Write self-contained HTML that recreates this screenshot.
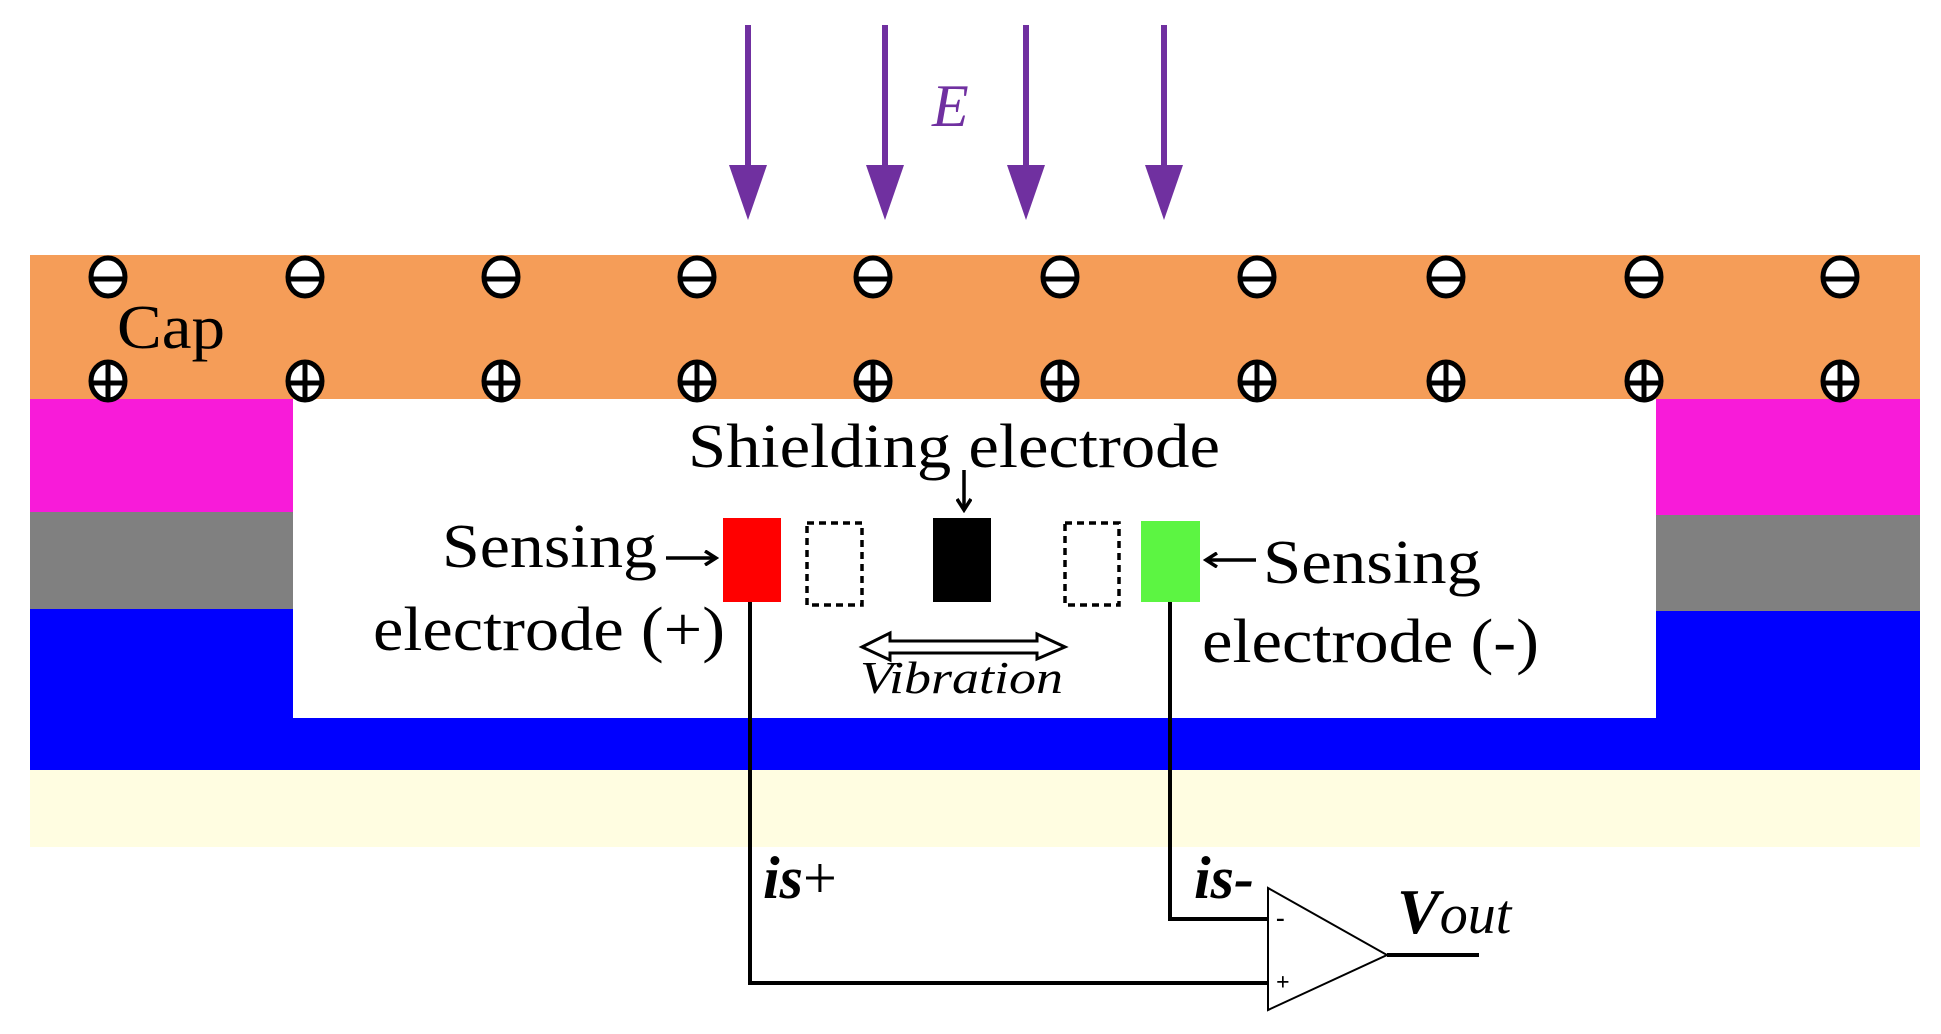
<!DOCTYPE html>
<html><head><meta charset="utf-8"><style>
html,body{margin:0;padding:0;background:#fff;width:1941px;height:1034px;overflow:hidden}
svg{display:block}
</style></head><body>
<svg width="1941" height="1034" viewBox="0 0 1941 1034" xmlns="http://www.w3.org/2000/svg" font-family="'Liberation Serif', 'Times New Roman', serif">
<defs>
<marker id="ah" markerWidth="16" markerHeight="16" refX="13" refY="8" orient="auto" markerUnits="userSpaceOnUse"><path d="M2,1 L13,8 L2,15" fill="none" stroke="#000" stroke-width="3.5"/></marker>
</defs>
<rect x="30" y="255" width="1890" height="144" fill="#f59d58"/>
<rect x="30" y="399" width="263" height="113" fill="#f81bd9"/>
<rect x="30" y="512" width="263" height="97" fill="#808080"/>
<rect x="30" y="609" width="263" height="161" fill="#0000ff"/>
<rect x="1656" y="399" width="264" height="116" fill="#f81bd9"/>
<rect x="1656" y="515" width="264" height="96" fill="#808080"/>
<rect x="1656" y="611" width="264" height="159" fill="#0000ff"/>
<rect x="30" y="718" width="1890" height="52" fill="#0000ff"/>
<rect x="30" y="770" width="1890" height="77" fill="#fffde1"/>

<g stroke="#000" stroke-width="5">
<g fill="#fff">
<ellipse cx="108" cy="277" rx="17" ry="19"/><ellipse cx="305" cy="277" rx="17" ry="19"/><ellipse cx="501" cy="277" rx="17" ry="19"/><ellipse cx="697" cy="277" rx="17" ry="19"/><ellipse cx="873" cy="277" rx="17" ry="19"/><ellipse cx="1060" cy="277" rx="17" ry="19"/><ellipse cx="1257" cy="277" rx="17" ry="19"/><ellipse cx="1446" cy="277" rx="17" ry="19"/><ellipse cx="1644" cy="277" rx="17" ry="19"/><ellipse cx="1840" cy="277" rx="17" ry="19"/>
<ellipse cx="108" cy="381" rx="17" ry="19"/><ellipse cx="305" cy="381" rx="17" ry="19"/><ellipse cx="501" cy="381" rx="17" ry="19"/><ellipse cx="697" cy="381" rx="17" ry="19"/><ellipse cx="873" cy="381" rx="17" ry="19"/><ellipse cx="1060" cy="381" rx="17" ry="19"/><ellipse cx="1257" cy="381" rx="17" ry="19"/><ellipse cx="1446" cy="381" rx="17" ry="19"/><ellipse cx="1644" cy="381" rx="17" ry="19"/><ellipse cx="1840" cy="381" rx="17" ry="19"/>
</g>
<path d="M91,279h34M288,279h34M484,279h34M680,279h34M856,279h34M1043,279h34M1240,279h34M1429,279h34M1627,279h34M1823,279h34"/>
<path d="M91,383h34M288,383h34M484,383h34M680,383h34M856,383h34M1043,383h34M1240,383h34M1429,383h34M1627,383h34M1823,383h34"/>
<path d="M108,362v38M305,362v38M501,362v38M697,362v38M873,362v38M1060,362v38M1257,362v38M1446,362v38M1644,362v38M1840,362v38"/>
</g>
<text x="117" y="348" font-size="62" textLength="108" lengthAdjust="spacingAndGlyphs">Cap</text>

<g stroke="#7030a0" stroke-width="6">
<path d="M748,25V170M885,25V170M1026,25V170M1164,25V170"/>
</g>
<g fill="#7030a0">
<path d="M729,165h38l-19,55z"/><path d="M866,165h38l-19,55z"/><path d="M1007,165h38l-19,55z"/><path d="M1145,165h38l-19,55z"/>
</g>
<text x="932" y="126" font-size="60" font-style="italic" fill="#7030a0">E</text>

<rect x="723" y="518" width="58" height="84" fill="#ff0000"/>
<rect x="807" y="523" width="55" height="82" fill="none" stroke="#000" stroke-width="3.5" stroke-dasharray="7,5"/>
<rect x="933" y="518" width="58" height="84" fill="#000"/>
<rect x="1065" y="523" width="54" height="82" fill="none" stroke="#000" stroke-width="3.5" stroke-dasharray="7,5"/>
<rect x="1141" y="521" width="59" height="81" fill="#5cf542"/>

<text x="688" y="467" font-size="62" textLength="532" lengthAdjust="spacingAndGlyphs">Shielding electrode</text>
<line x1="964" y1="470" x2="964" y2="510" stroke="#000" stroke-width="3.5" marker-end="url(#ah)"/>

<text x="442" y="567" font-size="62" textLength="215" lengthAdjust="spacingAndGlyphs">Sensing</text>
<line x1="666" y1="558" x2="716" y2="558" stroke="#000" stroke-width="3.5" marker-end="url(#ah)"/>
<text x="373" y="650" font-size="62" textLength="352" lengthAdjust="spacingAndGlyphs">electrode (+)</text>

<line x1="1256" y1="560" x2="1206" y2="560" stroke="#000" stroke-width="3.5" marker-end="url(#ah)"/>
<text x="1263" y="583" font-size="62" textLength="218" lengthAdjust="spacingAndGlyphs">Sensing</text>
<text x="1202" y="662" font-size="62" textLength="337" lengthAdjust="spacingAndGlyphs">electrode (-)</text>

<path d="M862,647 L890,633 L890,641 L1037,641 L1037,634 L1065,647 L1037,659 L1037,653 L890,653 L890,660 Z" fill="#fff" stroke="#000" stroke-width="3"/>
<text x="860" y="693" font-size="46" font-style="italic" textLength="203" lengthAdjust="spacingAndGlyphs">Vibration</text>

<g stroke="#000" stroke-width="4" fill="none">
<path d="M750,602 V983 H1268"/>
<path d="M1170,602 V919 H1268"/>
<path d="M1268,888 V1010 L1387,955 Z" stroke-width="2"/>
<path d="M1387,955 H1479"/>
</g>
<text x="1276" y="926" font-size="26" font-weight="bold">-</text>
<text x="1276" y="990" font-size="24" font-weight="bold">+</text>
<text x="763" y="898" font-size="60" font-style="italic" font-weight="bold">is<tspan font-weight="normal" font-style="normal">+</tspan></text>
<text x="1194" y="898" font-size="60" font-style="italic" font-weight="bold">is-</text>
<text x="1397" y="933" font-size="64" font-style="italic"><tspan font-weight="bold">V</tspan><tspan font-size="56">out</tspan></text>
</svg>
</body></html>
